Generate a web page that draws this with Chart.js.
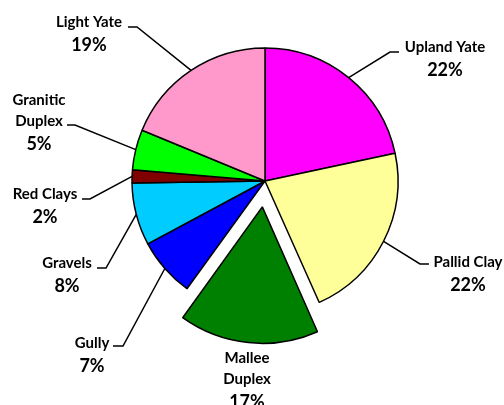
<!DOCTYPE html>
<html>
<head>
<meta charset="utf-8">
<script src="https://cdn.jsdelivr.net/npm/chart.js@4"></script>
<style>
  body { margin: 0; background: #fff; }
  #soilChart { display: block; }
</style>
</head>
<body>
<canvas id="soilChart" width="504" height="405"></canvas>
<script>
// Soil types, clockwise from 12 o'clock
const soilNames = ['Upland Yate', 'Pallid Clay', 'Mallee\nDuplex', 'Gully', 'Gravels', 'Red Clays', 'Granitic\nDuplex', 'Light Yate'];
const soilShare = [21.7, 21.7, 16.7, 7.2, 7.6, 1.6, 4.9, 18.8];
const soilColors = ['#FF00FF', '#FFFF99', '#008000', '#0000FF', '#00CCFF', '#800000', '#00FF00', '#FF99CC'];
// Chart.js moves a slice by offset / 4, so 104 pulls Mallee Duplex out ~26px
const sliceOffset = [0, 0, 104, 0, 0, 0, 0, 0];

// where each label sits, and the elbow of its leader line
const labelPos = [
    { x: 445, y: 47, elbow: [390, 52], hook: 399 },
    { x: 468, y: 262, elbow: [420, 264], hook: 429 },
    { x: 247, y: 358 },
    { x: 92, y: 343, elbow: [123, 346], hook: 113 },
    { x: 67, y: 263, elbow: [106, 268], hook: 97 },
    { x: 45, y: 194, elbow: [90, 199], hook: 82 },
    { x: 39, y: 100, elbow: [75, 125], hook: 67 },
    { x: 89, y: 22, elbow: [137, 27], hook: 128 }
];

const sliceLabels = {
    id: 'sliceLabels',
    afterDatasetsDraw(chart) {
        const ctx = chart.ctx;
        const meta = chart.getDatasetMeta(0);
        const total = soilShare.reduce((a, b) => a + b, 0);

        ctx.save();
        meta.data.forEach((arc, i) => {
            const lp = labelPos[i];
            const mid = (arc.startAngle + arc.endAngle) / 2;

            if (lp.elbow) {
                const ex = arc.x + Math.cos(mid) * arc.outerRadius;
                const ey = arc.y + Math.sin(mid) * arc.outerRadius;
                ctx.beginPath();
                ctx.moveTo(ex, ey);
                ctx.lineTo(lp.elbow[0], lp.elbow[1]);
                ctx.lineTo(lp.hook, lp.elbow[1]);
                ctx.strokeStyle = '#000';
                ctx.lineWidth = 1.5;
                ctx.stroke();
            }

            ctx.fillStyle = '#000';
            ctx.textAlign = 'center';
            ctx.textBaseline = 'middle';
            const lines = soilNames[i].split('\n');
            let y = lp.y;
            ctx.font = 'bold 15px Lato';
            lines.forEach((line, k) => {
                if (k > 0) y += 21;
                ctx.fillText(line, lp.x, y);
            });
            ctx.font = 'bold 18px Lato';
            ctx.fillText(Math.round(soilShare[i] / total * 100) + '%', lp.x, y + 23);
        });
        ctx.restore();
    }
};

new Chart(document.getElementById('soilChart'), {
    type: 'pie',
    data: {
        labels: soilNames,
        datasets: [{
            data: soilShare,
            backgroundColor: soilColors,
            borderColor: '#000',
            borderWidth: 1.5,
            offset: sliceOffset
        }]
    },
    options: {
        responsive: false,
        animation: false,
        radius: 133,
        layout: { padding: { left: 26, right: 0, top: 0, bottom: 43 } },
        plugins: {
            legend: { display: false },
            tooltip: { enabled: false }
        }
    },
    plugins: [sliceLabels]
});
</script>
</body>
</html>
